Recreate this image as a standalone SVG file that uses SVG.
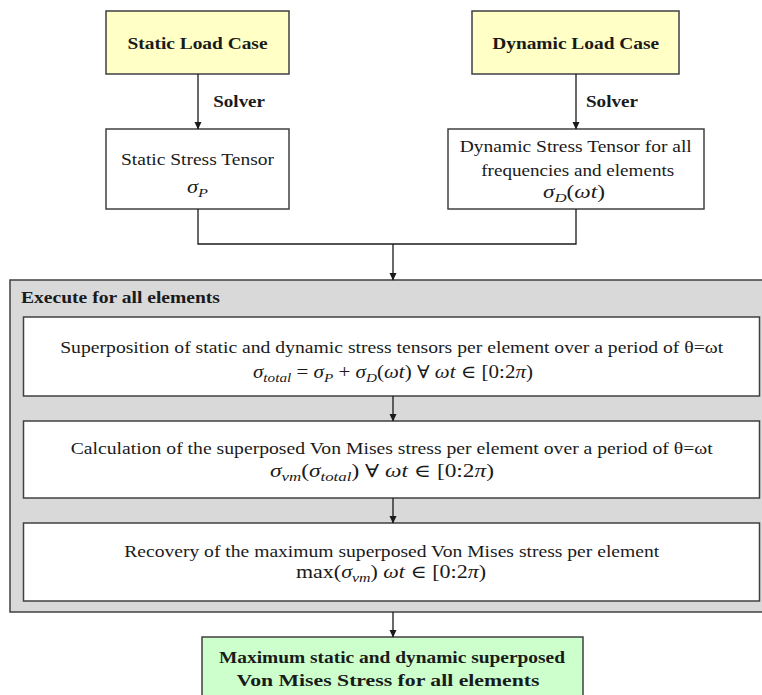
<svg xmlns="http://www.w3.org/2000/svg" width="762" height="695" viewBox="0 0 762 695">
<style>
.box{stroke:#404040;stroke-width:1.5}
.w{fill:#ffffff}
.y{fill:#ffffc6}
.g{fill:#ccffcc}
.gr{fill:#d9d9d9}
text{font-family:'Liberation Serif','Times New Roman','DejaVu Serif',serif;fill:#1a1a1a}
.t{font-size:17.5px}
.b{font-size:17px;font-weight:bold}
.m{font-size:18px}
.i{font-style:italic}
.s{font-size:13px;font-style:italic}
.c{stroke:#1a1a1a;stroke-width:1.3;fill:none}
</style>
<defs>
<marker id="ah" markerWidth="8" markerHeight="8" refX="7" refY="4" orient="auto" markerUnits="userSpaceOnUse">
<path d="M0,0.5 L7.5,4 L0,7.5 Z" fill="#1a1a1a"/>
</marker>
</defs>
<g id="outer">
<rect class="box gr" x="10" y="280" width="754" height="332"/>
<text class="b" x="21" y="303" textLength="199" lengthAdjust="spacingAndGlyphs">Execute for all elements</text>
</g>
<g id="static-load">
<rect class="box y" x="106" y="11" width="183" height="63"/>
<text class="b" x="197.5" y="49" text-anchor="middle" textLength="140" lengthAdjust="spacingAndGlyphs">Static Load Case</text>
</g>
<g id="dynamic-load">
<rect class="box y" x="472" y="11" width="207" height="63"/>
<text class="b" x="575.7" y="49" text-anchor="middle" textLength="167" lengthAdjust="spacingAndGlyphs">Dynamic Load Case</text>
</g>
<g id="static-stress">
<rect class="box w" x="106" y="129" width="183" height="80"/>
<text class="t" x="197.5" y="165" text-anchor="middle" textLength="153" lengthAdjust="spacingAndGlyphs">Static Stress Tensor</text>
<text class="m" x="187" y="193" textLength="21" lengthAdjust="spacingAndGlyphs"><tspan class="i">σ</tspan><tspan class="s" dy="4">P</tspan></text>
</g>
<g id="dynamic-stress">
<rect class="box w" x="448" y="129" width="256" height="80"/>
<text class="t" x="575.8" y="152" text-anchor="middle" textLength="232" lengthAdjust="spacingAndGlyphs">Dynamic Stress Tensor for all</text>
<text class="t" x="577.7" y="175.5" text-anchor="middle" textLength="193" lengthAdjust="spacingAndGlyphs">frequencies and elements</text>
<text class="m" x="543" y="198" textLength="62" lengthAdjust="spacingAndGlyphs"><tspan class="i">σ</tspan><tspan class="s" dy="4">D</tspan><tspan dy="-4">(</tspan><tspan class="i">ωt</tspan>)</text>
</g>
<g id="superposition">
<rect class="box w" x="23.5" y="317" width="736" height="79"/>
<text class="t" x="391.7" y="353" text-anchor="middle" textLength="663" lengthAdjust="spacingAndGlyphs">Superposition  of static and dynamic  stress tensors per element over a period of θ=ωt</text>
<text class="m" x="253" y="378" textLength="280" lengthAdjust="spacingAndGlyphs"><tspan class="i">σ</tspan><tspan class="s" dy="4">total</tspan><tspan dy="-4"> = </tspan><tspan class="i">σ</tspan><tspan class="s" dy="4">P</tspan><tspan dy="-4"> + </tspan><tspan class="i">σ</tspan><tspan class="s" dy="4">D</tspan><tspan dy="-4">(</tspan><tspan class="i">ωt</tspan>) ∀ <tspan class="i">ωt</tspan> ∈ [0:2<tspan class="i">π</tspan>)</text>
</g>
<g id="vonmises">
<rect class="box w" x="23.5" y="421" width="736" height="77"/>
<text class="t" x="391.7" y="454" text-anchor="middle" textLength="642" lengthAdjust="spacingAndGlyphs">Calculation  of the superposed  Von Mises stress per element over a period of θ=ωt</text>
<text class="m" x="270" y="477" textLength="224" lengthAdjust="spacingAndGlyphs"><tspan class="i">σ</tspan><tspan class="s" dy="4">vm</tspan><tspan dy="-4">(</tspan><tspan class="i">σ</tspan><tspan class="s" dy="4">total</tspan><tspan dy="-4">)  ∀ </tspan><tspan class="i">ωt</tspan> ∈ [0:2<tspan class="i">π</tspan>)</text>
</g>
<g id="recovery">
<rect class="box w" x="23.5" y="523" width="736" height="78"/>
<text class="t" x="391.7" y="557" text-anchor="middle" textLength="535" lengthAdjust="spacingAndGlyphs">Recovery  of the maximum superposed  Von Mises stress per element</text>
<text class="m" x="296" y="578" textLength="190" lengthAdjust="spacingAndGlyphs">max(<tspan class="i">σ</tspan><tspan class="s" dy="4">vm</tspan><tspan dy="-4">)  </tspan><tspan class="i">ωt</tspan> ∈ [0:2<tspan class="i">π</tspan>)</text>
</g>
<g id="result">
<rect class="box g" x="202" y="637" width="381" height="70"/>
<text class="b" x="392" y="663" text-anchor="middle" textLength="346" lengthAdjust="spacingAndGlyphs">Maximum static and dynamic superposed</text>
<text class="b" x="388" y="686" text-anchor="middle" textLength="303" lengthAdjust="spacingAndGlyphs">Von Mises Stress for all elements</text>
</g>
<g id="connectors">
<line class="c" x1="198" y1="74" x2="198" y2="129" marker-end="url(#ah)"/>
<line class="c" x1="576" y1="74" x2="576" y2="129" marker-end="url(#ah)"/>
<path class="c" d="M198,209 V244 H576 V209"/>
<line class="c" x1="393" y1="244" x2="393" y2="280" marker-end="url(#ah)"/>
<line class="c" x1="393" y1="396" x2="393" y2="421" marker-end="url(#ah)"/>
<line class="c" x1="393" y1="498" x2="393" y2="523" marker-end="url(#ah)"/>
<line class="c" x1="393" y1="612" x2="393" y2="637" marker-end="url(#ah)"/>
<text class="b" x="213.3" y="107" textLength="51.7" lengthAdjust="spacingAndGlyphs">Solver</text>
<text class="b" x="586" y="107" textLength="52" lengthAdjust="spacingAndGlyphs">Solver</text>
</g>
</svg>
